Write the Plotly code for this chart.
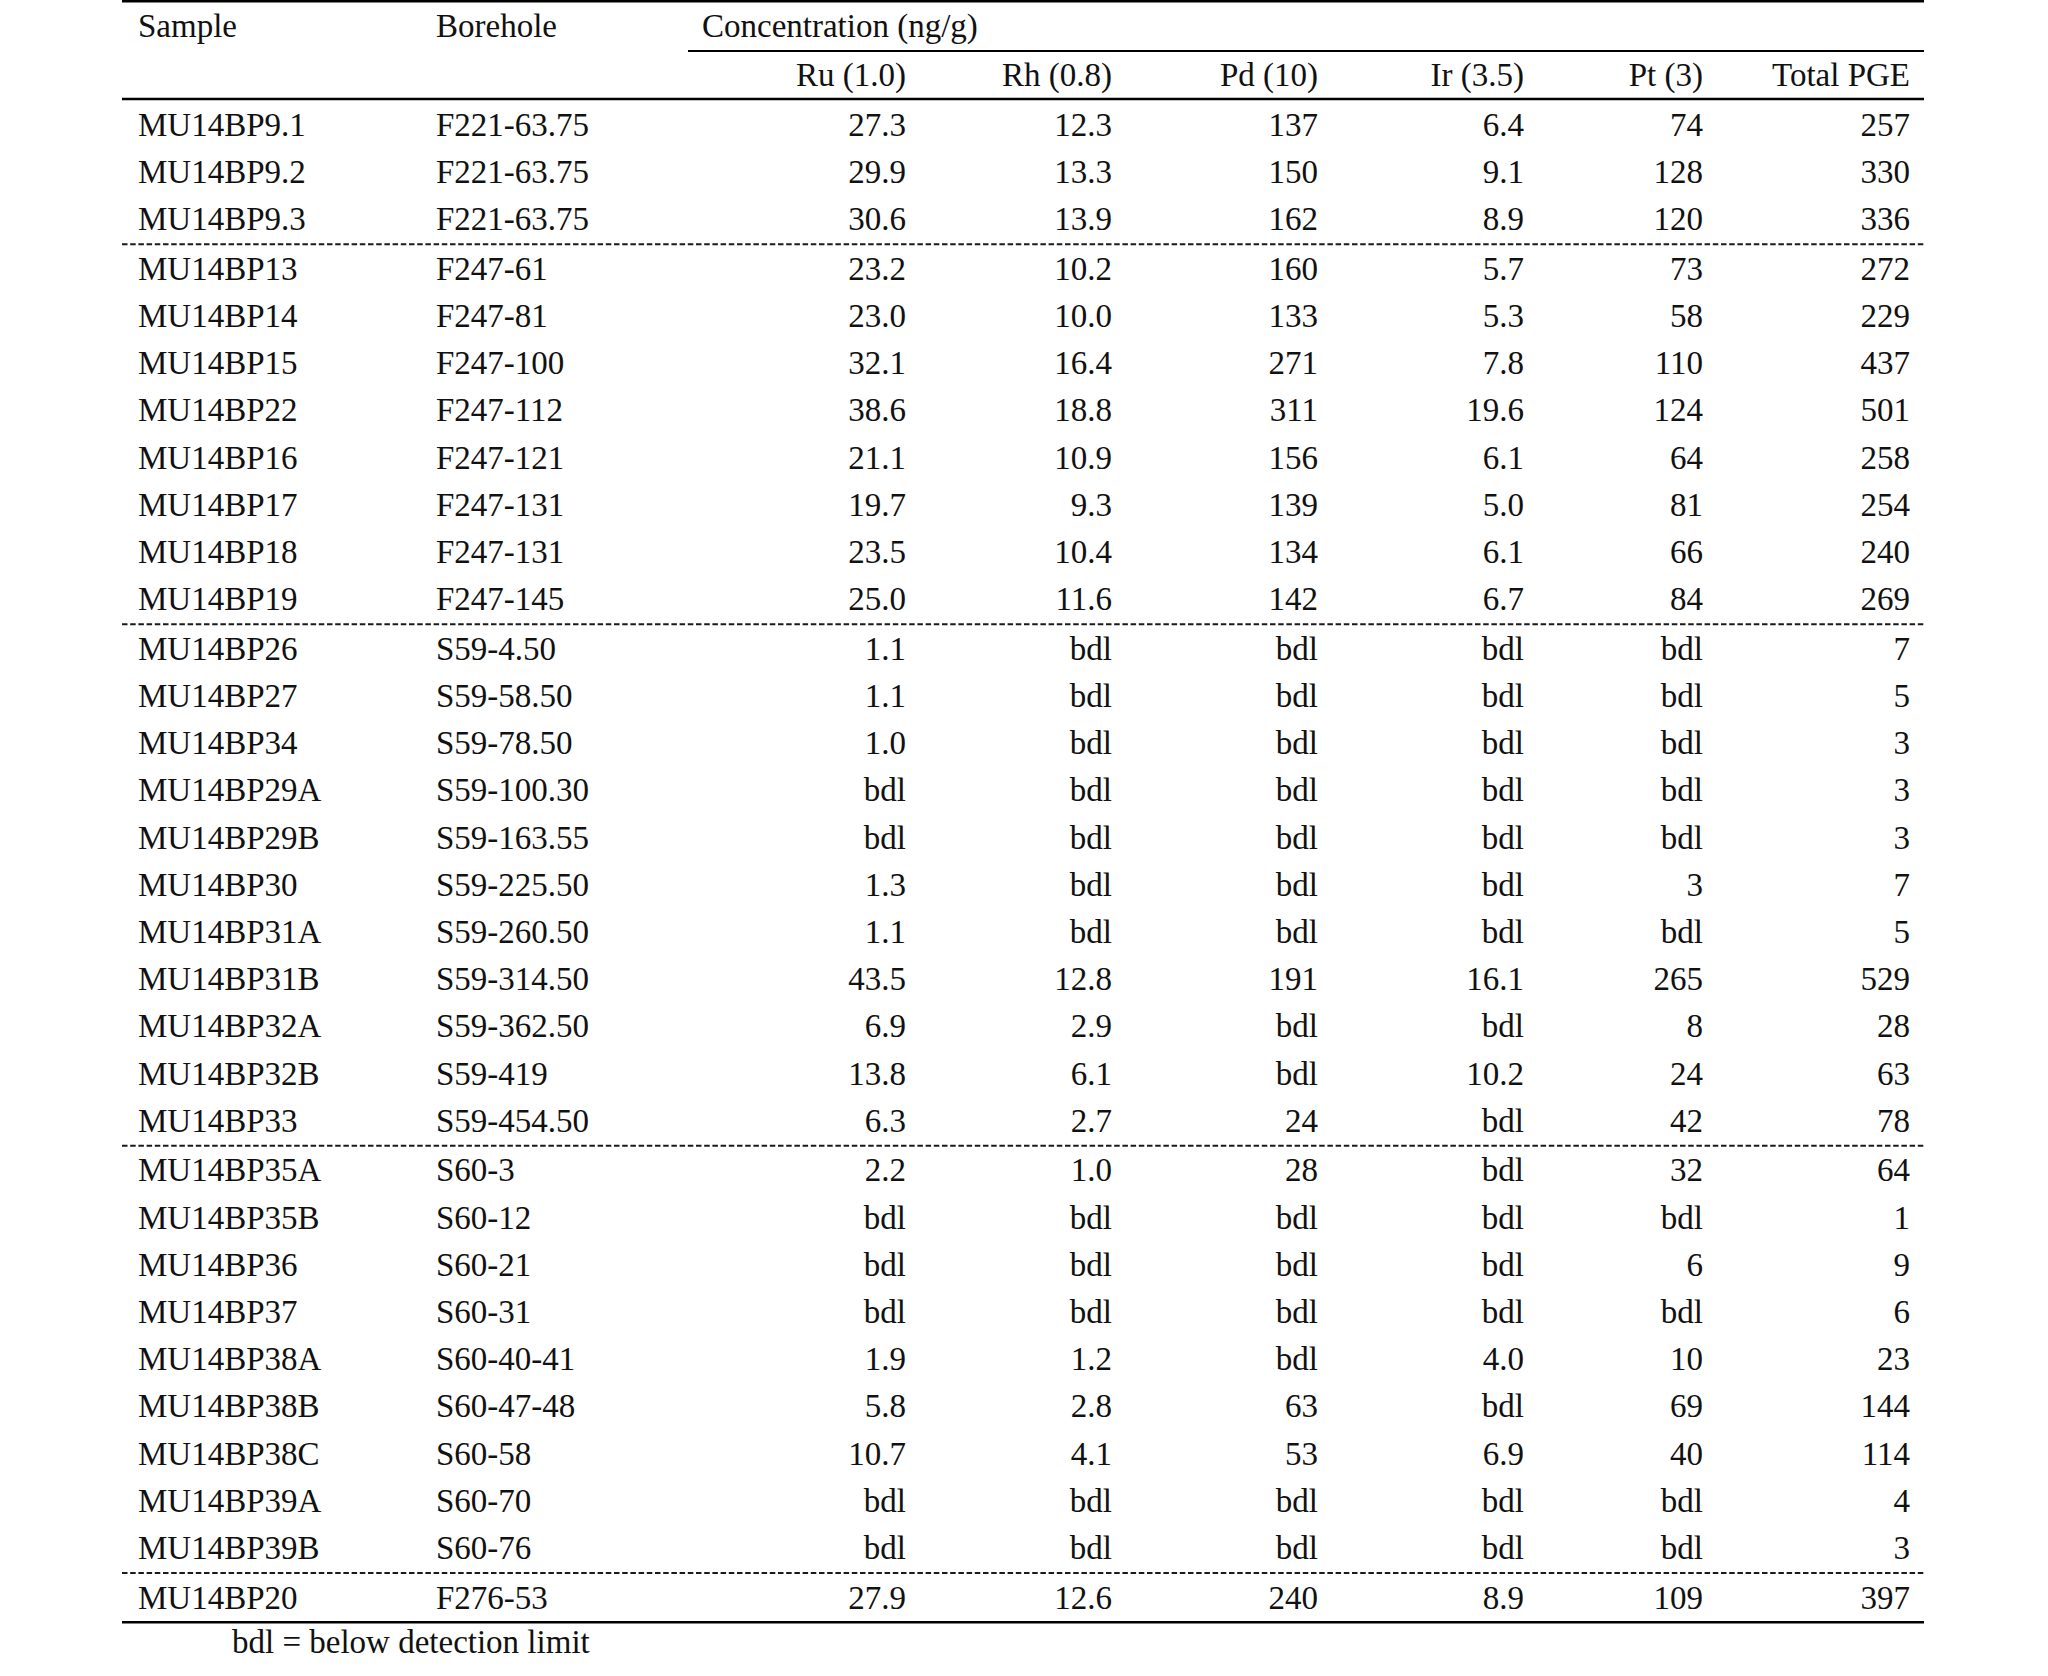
import plotly.graph_objects as go

# table data
samples = ['MU14BP9.1', 'MU14BP9.2', 'MU14BP9.3',
           'MU14BP13', 'MU14BP14', 'MU14BP15', 'MU14BP22', 'MU14BP16', 'MU14BP17', 'MU14BP18', 'MU14BP19',
           'MU14BP26', 'MU14BP27', 'MU14BP34', 'MU14BP29A', 'MU14BP29B', 'MU14BP30', 'MU14BP31A', 'MU14BP31B',
           'MU14BP32A', 'MU14BP32B', 'MU14BP33',
           'MU14BP35A', 'MU14BP35B', 'MU14BP36', 'MU14BP37', 'MU14BP38A', 'MU14BP38B', 'MU14BP38C',
           'MU14BP39A', 'MU14BP39B',
           'MU14BP20']
boreholes = ['F221-63.75', 'F221-63.75', 'F221-63.75',
             'F247-61', 'F247-81', 'F247-100', 'F247-112', 'F247-121', 'F247-131', 'F247-131', 'F247-145',
             'S59-4.50', 'S59-58.50', 'S59-78.50', 'S59-100.30', 'S59-163.55', 'S59-225.50', 'S59-260.50',
             'S59-314.50', 'S59-362.50', 'S59-419', 'S59-454.50',
             'S60-3', 'S60-12', 'S60-21', 'S60-31', 'S60-40-41', 'S60-47-48', 'S60-58', 'S60-70', 'S60-76',
             'F276-53']
ru = ['27.3', '29.9', '30.6',
      '23.2', '23.0', '32.1', '38.6', '21.1', '19.7', '23.5', '25.0',
      '1.1', '1.1', '1.0', 'bdl', 'bdl', '1.3', '1.1', '43.5', '6.9', '13.8', '6.3',
      '2.2', 'bdl', 'bdl', 'bdl', '1.9', '5.8', '10.7', 'bdl', 'bdl',
      '27.9']
rh = ['12.3', '13.3', '13.9',
      '10.2', '10.0', '16.4', '18.8', '10.9', '9.3', '10.4', '11.6',
      'bdl', 'bdl', 'bdl', 'bdl', 'bdl', 'bdl', 'bdl', '12.8', '2.9', '6.1', '2.7',
      '1.0', 'bdl', 'bdl', 'bdl', '1.2', '2.8', '4.1', 'bdl', 'bdl',
      '12.6']
pd_ = ['137', '150', '162',
       '160', '133', '271', '311', '156', '139', '134', '142',
       'bdl', 'bdl', 'bdl', 'bdl', 'bdl', 'bdl', 'bdl', '191', 'bdl', 'bdl', '24',
       '28', 'bdl', 'bdl', 'bdl', 'bdl', '63', '53', 'bdl', 'bdl',
       '240']
ir = ['6.4', '9.1', '8.9',
      '5.7', '5.3', '7.8', '19.6', '6.1', '5.0', '6.1', '6.7',
      'bdl', 'bdl', 'bdl', 'bdl', 'bdl', 'bdl', 'bdl', '16.1', 'bdl', '10.2', 'bdl',
      'bdl', 'bdl', 'bdl', 'bdl', '4.0', 'bdl', '6.9', 'bdl', 'bdl',
      '8.9']
pt = ['74', '128', '120',
      '73', '58', '110', '124', '64', '81', '66', '84',
      'bdl', 'bdl', 'bdl', 'bdl', 'bdl', '3', 'bdl', '265', '8', '24', '42',
      '32', 'bdl', '6', 'bdl', '10', '69', '40', 'bdl', 'bdl',
      '109']
total_pge = ['257', '330', '336',
             '272', '229', '437', '501', '258', '254', '240', '269',
             '7', '5', '3', '3', '3', '7', '5', '529', '28', '63', '78',
             '64', '1', '9', '6', '23', '144', '114', '4', '3',
             '397']
group_sizes = [3, 8, 11, 9, 1]

top_headers = ['Sample', 'Borehole', 'Concentration (ng/g)']
sub_headers = ['Ru (1.0)', 'Rh (0.8)', 'Pd (10)', 'Ir (3.5)', 'Pt (3)', 'Total PGE']
footnote = 'bdl = below detection limit'

# layout: x in page pixels, y in row units
FONT = dict(family='Liberation Serif, Times New Roman, serif', size=33, color='#111111')
GAP = 0.051   # extra space at each dashed separator
TXT = 0.055   # text sits a touch lower than the row centre
x_left = [138, 436]
x_right = [906, 1112, 1318, 1524, 1703, 1910]
x_conc = 702
x_line0, x_line1, x_under0 = 122, 1924, 688

group_of_row = [g for g, n in enumerate(group_sizes) for _ in range(n)]
row_y = [i + GAP * g for i, g in enumerate(group_of_row)]
text_y = [y + TXT for y in row_y]

fig = go.Figure()

def add_col(x, texts, ys, pos):
    fig.add_trace(go.Scatter(x=[x] * len(texts), y=ys, text=texts, mode='text',
                             textposition=pos, textfont=FONT, hoverinfo='skip',
                             showlegend=False))

add_col(x_left[0], samples, text_y, 'middle right')
add_col(x_left[1], boreholes, text_y, 'middle right')
for x, col in zip(x_right, [ru, rh, pd_, ir, pt, total_pge]):
    add_col(x, col, text_y, 'middle left')

# headers
y_head, y_sub = -2.1 + TXT, -1.05 + TXT
add_col(x_left[0], [top_headers[0]], [y_head], 'middle right')
add_col(x_left[1], [top_headers[1]], [y_head], 'middle right')
add_col(x_conc, [top_headers[2]], [y_head], 'middle right')
for x, h in zip(x_right, sub_headers):
    add_col(x, [h], [y_sub], 'middle left')

# footnote
add_col(232, [footnote], [row_y[-1] + 0.94 + TXT], 'middle right')

# rules
solid = dict(color='black', width=2.5)
fig.add_shape(type='line', x0=x_line0, x1=x_line1, y0=-2.625, y1=-2.625, line=dict(color='black', width=3))
fig.add_shape(type='line', x0=x_under0, x1=x_line1, y0=-1.57, y1=-1.57, line=dict(color='black', width=2))
fig.add_shape(type='line', x0=x_line0, x1=x_line1, y0=-0.55, y1=-0.55, line=solid)
end = 0
for g, n in enumerate(group_sizes[:-1]):
    end += n
    y = row_y[end - 1] + 0.5 + GAP / 2
    fig.add_shape(type='line', x0=x_line0, x1=x_line1, y0=y, y1=y,
                  line=dict(color='#1a1a1a', width=2, dash='5.5px,2.7px'))
y_bot = row_y[-1] + 0.52
fig.add_shape(type='line', x0=x_line0, x1=x_line1, y0=y_bot, y1=y_bot, line=solid)

ROW_PX = 47.2
y_top = -125 / ROW_PX
fig.update_xaxes(range=[0, 2048], visible=False, fixedrange=True)
fig.update_yaxes(range=[y_top + 1676 / ROW_PX, y_top], visible=False, fixedrange=True)
fig.update_layout(width=2048, height=1676, margin=dict(l=0, r=0, t=0, b=0),
                  plot_bgcolor='white', paper_bgcolor='white')

# drop the default body margin so the top rule can sit at the very top edge
fig.write_html("out.html", config={'displayModeBar': False},
               post_script="document.body.style.margin = '0px';")
